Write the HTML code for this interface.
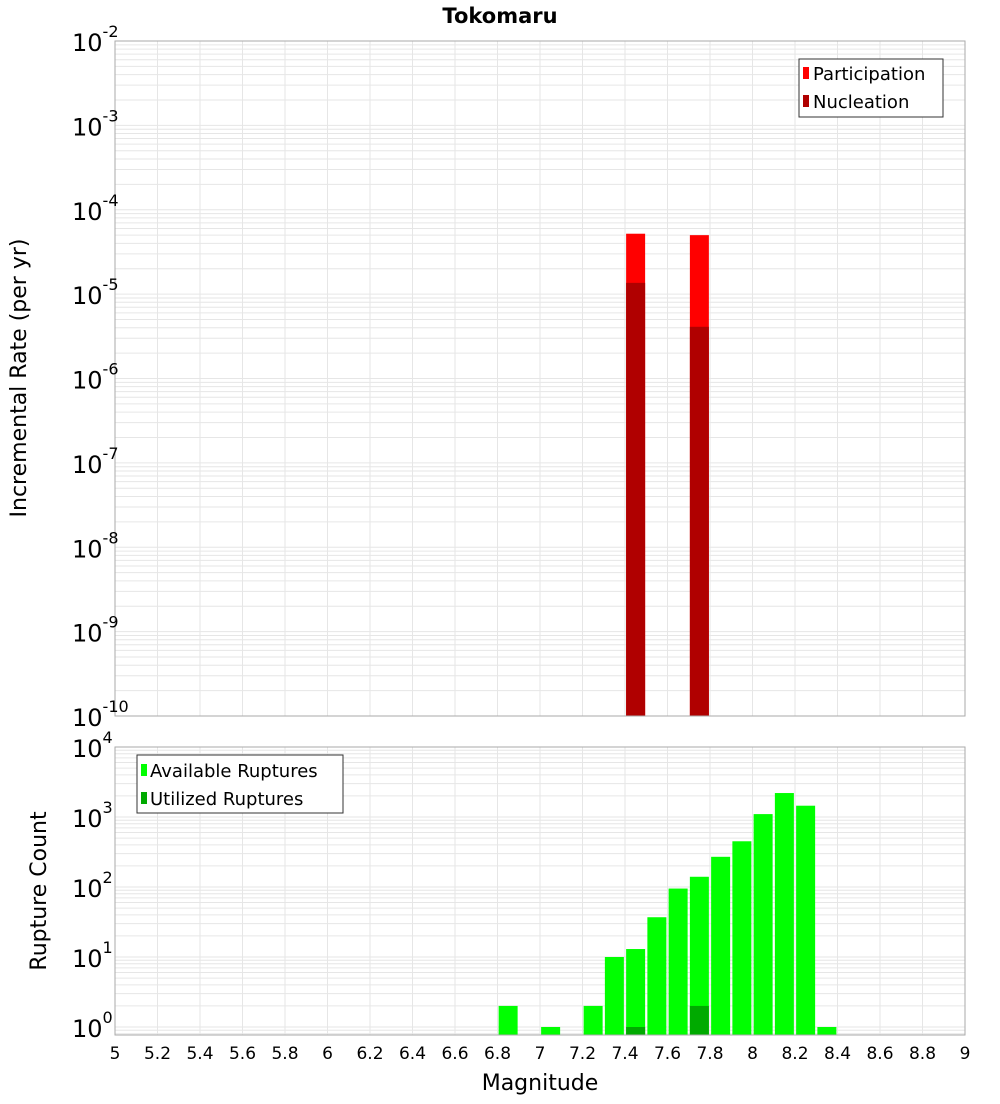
<!DOCTYPE html>
<html><head><meta charset="utf-8"><style>
body{margin:0;background:#fff;font-family:"DejaVu Sans","Liberation Sans",sans-serif;}
svg text{font-family:"DejaVu Sans","Liberation Sans",sans-serif;}
</style></head><body>
<svg id="c" width="1000" height="1100" xmlns="http://www.w3.org/2000/svg"></svg>
<script>
const bins=[6.85,7.05,7.25,7.35,7.45,7.55,7.65,7.75,7.85,7.95,8.05,8.15,8.25,8.35];
const available=[2,1,2,10,13,37,95,140,270,450,1100,2200,1450,1];
const utilBins=[7.45,7.75];
const utilized=[1,2];
const rateBins=[7.45,7.75];
const participation=[5.2e-5,5.0e-5];
const nucleation=[1.36e-5,4.1e-6];
const xTicks=[5,5.2,5.4,5.6,5.8,6,6.2,6.4,6.6,6.8,7,7.2,7.4,7.6,7.8,8,8.2,8.4,8.6,8.8,9];
const topExp=[-2,-3,-4,-5,-6,-7,-8,-9,-10];
const botExp=[4,3,2,1,0];

const NS="http://www.w3.org/2000/svg";
const svg=document.getElementById('c');
function el(t,a,p){const e=document.createElementNS(NS,t);for(const k in a)e.setAttribute(k,a[k]);(p||svg).appendChild(e);return e;}
const L=115,R=965;
const x=m=>L+(m-5)/4*(R-L);
const T1=41,B1=716;
const y1=v=>T1+(-2-Math.log10(v))*(B1-T1)/8;
const T2=747,B2=1035;
const y2=v=>T2+(4-Math.log10(v))*70;
const binW=21.25, barW=19;

function grid(top,bot,yf,emax,emin){
  const g=el('g',{});
  
  
  for(let e=emin-1;e<=emax;e++)for(let k=1;k<10;k++){
    const yy=yf(k*Math.pow(10,e));
    if(yy<top-0.1||yy>bot+0.1)continue;
    el('line',{x1:L,x2:R,y1:yy,y2:yy,stroke:'#e6e6e6','stroke-width':1},g);
  }
  xTicks.forEach(t=>{el('line',{x1:x(t),x2:x(t),y1:top,y2:bot,stroke:'#e6e6e6','stroke-width':1},g);});
}
el('rect',{x:0,y:0,width:1000,height:1100,fill:'#fff'});
grid(T1,B1,y1,-2,-10);
grid(T2,B2,y2,4,0);

// top bars
rateBins.forEach((m,i)=>{
  const p=el('rect',{x:x(m)-barW/2,y:y1(participation[i]),width:barW,height:B1-y1(participation[i]),fill:'#ff0000'});
  
  
  const n=el('rect',{x:x(m)-barW/2,y:y1(nucleation[i]),width:barW,height:B1-y1(nucleation[i]),fill:'#b00000'});
  
  
});
// bottom bars
bins.forEach((m,i)=>{
  const yy=Math.max(T2,y2(available[i]));
  const r=el('rect',{x:x(m)-barW/2,y:yy,width:barW,height:B2-yy,fill:'#00ff00'});
  
  
});
utilBins.forEach((m,i)=>{
  const yy=y2(utilized[i]);
  const r=el('rect',{x:x(m)-barW/2,y:yy,width:barW,height:B2-yy,fill:'#00aa00'});
  
  
});
// frames
el('rect',{x:L,y:T1,width:R-L,height:B1-T1,fill:'none',stroke:'#aaa'});
el('rect',{x:L,y:T2,width:R-L,height:B2-T2,fill:'none',stroke:'#aaa'});

// y tick labels
topExp.forEach(e=>{
  const t=el('text',{x:72,y:y1(Math.pow(10,e))+10,'font-size':24,fill:'#000'});
  
  
  t.innerHTML='10<tspan dy="-14" font-size="16">'+e+'</tspan>';
});
botExp.forEach(e=>{
  const t=el('text',{x:72,y:y2(Math.pow(10,e))+10,'font-size':24,fill:'#000'});
  
  
  t.innerHTML='10<tspan dy="-14" font-size="16">'+e+'</tspan>';
});
// x tick labels
xTicks.forEach(v=>{
  const t=el('text',{x:x(v),y:1059,'font-size':17,'text-anchor':'middle',fill:'#000'});
  
  
  t.textContent=String(v);
});
</script>
<svg style="position:absolute;left:0;top:0" width="1000" height="1100" xmlns="http://www.w3.org/2000/svg">
<text x="500" y="23" font-size="21" font-weight="bold" text-anchor="middle">Tokomaru</text>
<text transform="translate(26,378) rotate(-90)" font-size="22" text-anchor="middle">Incremental Rate (per yr)</text>
<text transform="translate(46,891) rotate(-90)" font-size="22" text-anchor="middle">Rupture Count</text>
<text x="540" y="1090" font-size="22" text-anchor="middle">Magnitude</text>
<g>
<rect x="799" y="59" width="144" height="58" fill="#fff" stroke="#333"/>
<rect x="803" y="67" width="6" height="12" fill="#ff0000"/>
<text x="813" y="80" font-size="18">Participation</text>
<rect x="803" y="95" width="6" height="12" fill="#b00000"/>
<text x="813" y="108" font-size="18">Nucleation</text>
</g>
<g>
<rect x="137" y="755" width="206" height="58" fill="#fff" stroke="#333"/>
<rect x="141" y="764" width="6" height="12" fill="#00ff00"/>
<text x="150" y="777" font-size="18">Available Ruptures</text>
<rect x="141" y="792" width="6" height="12" fill="#00aa00"/>
<text x="150" y="805" font-size="18">Utilized Ruptures</text>
</g>
</svg>
</body></html>
